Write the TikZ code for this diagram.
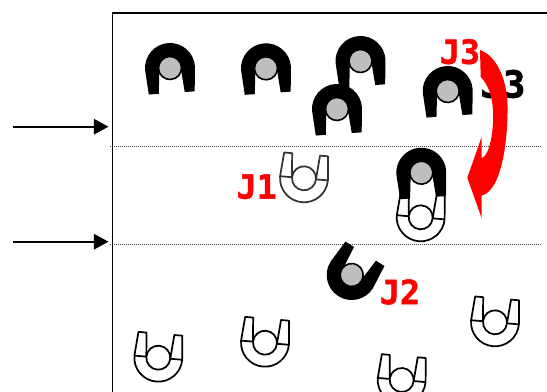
\documentclass[tikz,border=0pt]{standalone}
\usepackage{fontspec}
\usetikzlibrary{arrows.meta}
\newfontfamily\jobfont{DejaVu Sans Mono}[BoldFeatures={FakeBold=1.5}]
\definecolor{hubgray}{RGB}{190,190,190}
\tikzset{
  framesline/.style={line width=1.1pt},
  levelline/.style={line width=0.5pt,densely dotted,black!75},
  feedarrow/.style={line width=1.6pt,-{Triangle[length=11pt,width=11.5pt]}},
  joblabel/.style={font=\jobfont\bfseries\fontsize{25}{25}\selectfont,inner sep=0pt},
  hiddenlabel/.style={font=\jobfont\bfseries\fontsize{28}{28}\selectfont,inner sep=0pt},
  gripperblack/.pic={
    \fill (-25,0) arc (180:360:25) -- (23,25) -- (13,25) -- (11,4) -- (-11,4) -- (-13,25) -- (-23,25) -- cycle;
    \draw[line width=1.2pt,fill=hubgray] (0,0) circle (11.5);
  },
  gripperwhite/.pic={
    \draw[line width=1.3pt,line join=round,pic actions] (-24,0) arc (180:0:24) -- (22,-24) -- (14,-24) -- (12,0) -- (-12,0) -- (-14,-24) -- (-22,-24) -- cycle;
    \draw[line width=1.3pt,pic actions] (-24,0) -- (-12,0) (12,0) -- (24,0);
    \draw[line width=1.3pt,pic actions,fill=white] (0,0) circle (12);
  }
}
\begin{document}
\begin{tikzpicture}[x=0.75pt,y=-0.75pt]
\useasboundingbox (0,0) rectangle (547,392);
% frame and levels
\draw[framesline] (547,13) -- (112.5,13) -- (112.5,392);
\draw[levelline] (110,146) -- (542,146);
\draw[levelline] (110,244.5) -- (542,244.5);
\coordinate (feedstartA) at (13,126.7);
\coordinate (feedendA) at (108.5,126.7);
\coordinate (feedstartB) at (13,241.7);
\coordinate (feedendB) at (108.5,241.7);
\draw[feedarrow] (feedstartA) -- (feedendA);
\draw[feedarrow] (feedstartB) -- (feedendB);
% hidden label
\node[hiddenlabel] (jobthreeblack) at (503,84) {J3};
% black grippers
\pic[rotate=4] at (170,68) {gripperblack};
\pic[rotate=4] at (266,68.3) {gripperblack};
\pic[rotate=4] at (360.5,61) {gripperblack};
\pic[rotate=4] at (337,109) {gripperblack};
\pic[rotate=4] at (447.7,91) {gripperblack};
% white grippers
\pic[rotate=-5,draw=black!80] at (304,178.3) {gripperwhite};
\pic[rotate=-5] at (420.7,217.3) {gripperwhite};
\pic[rotate=4] at (421.3,172.7) {gripperblack};
\pic[rotate=148] at (351.7,275) {gripperblack};
\pic[rotate=-5] at (158.3,357.7) {gripperwhite};
\pic[rotate=-5] at (265,342.7) {gripperwhite};
\pic[rotate=-5] at (495,322.3) {gripperwhite};
\pic[rotate=-5] at (401.7,380) {gripperwhite};
% curved arrow
\fill[red] (480,50) .. controls (497,56) and (507,80) .. (507.5,105)
  .. controls (508,140) and (502,190) .. (481.7,195.7) -- (481.7,218.3) -- (467.3,177.7)
  -- (481.7,136.7) -- (481.7,158.3) .. controls (490,155) and (494,130) .. (493,110)
  .. controls (492,95) and (488,85) .. (480.7,76.7) -- cycle;
% labels
\node[joblabel,text=red] (jobone) at (256.7,186.7) {J1};
\node[joblabel,text=red] (jobtwo) at (400,292) {J2};
\node[joblabel,text=red] (jobthree) at (460,51.7) {J3};
\end{tikzpicture}
\end{document}
